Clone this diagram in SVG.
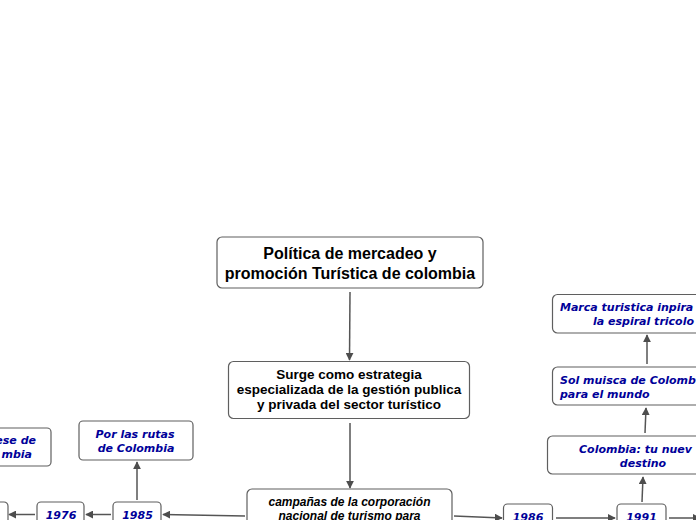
<svg xmlns="http://www.w3.org/2000/svg" width="696" height="520" viewBox="0 0 696 520">
<defs>
<marker id="arr" viewBox="0 0 10 10" refX="9" refY="5" markerWidth="8" markerHeight="8" markerUnits="userSpaceOnUse" orient="auto">
<path d="M0,0 L10,5 L0,10 z" fill="#4d4d4d"/>
</marker>
<style>
.box{fill:#fff;stroke:#5f5f5f;stroke-width:1.2}
.con{fill:none;stroke:#555;stroke-width:1.5;marker-end:url(#arr)}
.t1{font-family:"Liberation Sans",Arial,sans-serif;font-weight:bold;font-size:16px;fill:#000;text-anchor:middle}
.t2{font-family:"Liberation Sans",Arial,sans-serif;font-weight:bold;font-size:13.5px;fill:#000;text-anchor:middle}
.t3{font-family:"Liberation Sans",Arial,sans-serif;font-weight:bold;font-style:italic;font-size:12px;fill:#000;text-anchor:middle}
.b{font-family:"DejaVu Sans",Verdana,sans-serif;font-weight:bold;font-style:italic;font-size:11px;fill:#000099}
</style>
</defs>
<rect width="696" height="520" fill="#fff"/>
<g id="connectors">
<line class="con" x1="350" y1="292" x2="349.5" y2="360"/>
<line class="con" x1="350" y1="423" x2="350" y2="488"/>
<line class="con" x1="245" y1="516" x2="163" y2="514.5"/>
<line class="con" x1="111" y1="514.5" x2="86" y2="514.5"/>
<line class="con" x1="35" y1="514.5" x2="9" y2="514.5"/>
<line class="con" x1="137" y1="500" x2="137" y2="462"/>
<line class="con" x1="454" y1="516" x2="502" y2="518"/>
<line class="con" x1="556" y1="518" x2="615" y2="518"/>
<line class="con" x1="669" y1="518" x2="700" y2="518"/>
<line class="con" x1="642" y1="502" x2="643" y2="477"/>
<line class="con" x1="645" y1="433" x2="646" y2="408"/>
<line class="con" x1="647" y1="364" x2="647" y2="335"/>
</g>
<g id="root">
<rect class="box" x="217" y="237" width="266" height="51" rx="5"/>
<text class="t1" x="350" y="259">Política de mercadeo y</text>
<text class="t1" x="350" y="279">promoción Turística de colombia</text>
</g>
<g id="surge">
<rect class="box" x="228.5" y="361.5" width="241" height="57" rx="5"/>
<text class="t2" x="349" y="379">Surge como estrategia</text>
<text class="t2" x="349" y="394">especializada de la gestión publica</text>
<text class="t2" x="349" y="409">y privada del sector turístico</text>
</g>
<g id="campanas">
<rect class="box" x="247" y="489" width="205" height="50" rx="5"/>
<text class="t3" x="349.5" y="506">campañas de la corporación</text>
<text class="t3" x="349.5" y="520">nacional de turismo para</text>
</g>
<g id="n1985">
<rect class="box" x="113" y="502" width="48" height="30" rx="4"/>
<text class="b" x="137.5" y="518.5" text-anchor="middle">1985</text>
</g>
<g id="n1976">
<rect class="box" x="37" y="502" width="47" height="30" rx="4"/>
<text class="b" x="61" y="518.5" text-anchor="middle">1976</text>
</g>
<g id="nleft">
<rect class="box" x="-40" y="502" width="48" height="30" rx="4"/>
</g>
<g id="rutas">
<rect class="box" x="79" y="421" width="114" height="39" rx="4"/>
<text class="b" x="135" y="438" text-anchor="middle">Por las rutas</text>
<text class="b" x="136" y="452" text-anchor="middle">de Colombia</text>
</g>
<g id="esede">
<rect class="box" x="-70" y="428" width="121" height="38" rx="4"/>
<text class="b" x="36" y="444" text-anchor="end">ese de</text>
<text class="b" x="32" y="458" text-anchor="end">mbia</text>
</g>
<g id="n1986">
<rect class="box" x="503.5" y="504" width="49" height="30" rx="4"/>
<text class="b" x="528" y="521" text-anchor="middle">1986</text>
</g>
<g id="n1991">
<rect class="box" x="617" y="504" width="49" height="30" rx="4"/>
<text class="b" x="641.5" y="521" text-anchor="middle">1991</text>
</g>
<g id="nuevo">
<rect class="box" x="547.5" y="436" width="190" height="38" rx="5"/>
<text class="b" x="579" y="453">Colombia: tu nuev</text>
<text class="b" x="643" y="467" text-anchor="middle">destino</text>
</g>
<g id="sol">
<rect class="box" x="552.5" y="367" width="190" height="38" rx="5"/>
<text class="b" x="560" y="384">Sol muisca de Colombi</text>
<text class="b" x="560" y="398">para el mundo</text>
</g>
<g id="marca">
<rect class="box" x="552.5" y="294.5" width="190" height="38.5" rx="5"/>
<text class="b" x="560" y="311">Marca turistica inpira</text>
<text class="b" x="593" y="325">la espiral tricolo</text>
</g>
</svg>
